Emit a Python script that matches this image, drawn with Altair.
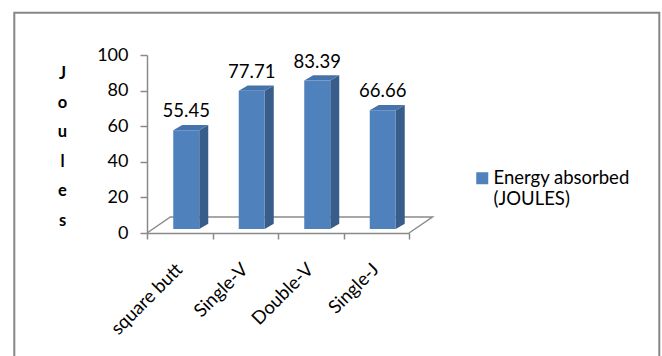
import json
import altair as alt
import pandas as pd

# ---------------- data ----------------
categories = ["square butt", "Single-V", "Double-V", "Single-J"]
values = [55.45, 77.71, 83.39, 66.66]
value_labels = ["55.45", "77.71", "83.39", "66.66"]
series_name = "Energy absorbed (JOULES)"
legend_lines = ["Energy absorbed", "(JOULES)"]
y_ticks = [0, 20, 40, 60, 80, 100]
y_title_letters = ["J", "o", "u", "l", "e", "s"]

# ---------------- layout / 3-D look ----------------
W, H = 262, 178                 # plot area in px
N = len(categories)
XU = W / N                      # px per x unit (one category band)
YU = H / 100.0                  # px per y unit
FLOOR_DX, FLOOR_DY = 23.4 / XU, 16.0 / YU
FRONT_DX, FRONT_DY = 6.5 / XU, 4.0 / YU
SIDE_DX, SIDE_DY = 9.0 / XU, 5.3 / YU
BAR_W = 26.0 / XU

FRONT_C = "#4F81BD"
SIDE_C = "#385D8A"
TOP_C = "#4673AB"
AXIS_C = "#8A8A8A"
FONT = "Lato"

front_rows, side_rows, top_rows, label_rows = [], [], [], []
for i, (cat, v, lab) in enumerate(zip(categories, values, value_labels)):
    c = i + 0.5
    x0 = c - BAR_W / 2 + FRONT_DX
    x1 = x0 + BAR_W
    b = FRONT_DY
    t = v + FRONT_DY
    front_rows.append(dict(cat=cat, series=series_name, x=x0, x2=x1, y=t, y2=b))
    side_rows += [dict(cat=cat, x=x1, y=t, y2=b),
                  dict(cat=cat, x=x1 + SIDE_DX, y=t + SIDE_DY, y2=b + SIDE_DY)]
    top_rows += [dict(cat=cat, x=x0, y=t, y2=t),
                 dict(cat=cat, x=x0 + SIDE_DX, y=t + SIDE_DY, y2=t),
                 dict(cat=cat, x=x1, y=t + SIDE_DY, y2=t),
                 dict(cat=cat, x=x1 + SIDE_DX, y=t + SIDE_DY, y2=t + SIDE_DY)]
    label_rows.append(dict(cat=cat, x=(x0 + x1) / 2, y=t, text=lab))

floor_rows = [dict(o=0, x=0, y=0), dict(o=1, x=FLOOR_DX, y=FLOOR_DY),
              dict(o=2, x=N + FLOOR_DX, y=FLOOR_DY), dict(o=3, x=N, y=0)]

front_df = pd.DataFrame(front_rows)
side_df = pd.DataFrame(side_rows)
top_df = pd.DataFrame(top_rows)
label_df = pd.DataFrame(label_rows)
floor_df = pd.DataFrame(floor_rows)
frame_df = pd.DataFrame([dict(k=0)])

label_expr = json.dumps(categories + [""]) + "[datum.value]"

x_axis = alt.Axis(values=list(range(N + 1)), labelExpr=label_expr,
                  labelOffset=XU / 2 - 1, labelAngle=-45, labelAlign="right",
                  labelBaseline="middle", labelPadding=27, tickSize=6,
                  labelFlush=False, labelOverlap=False, grid=False, title=None,
                  labelFont=FONT, labelFontSize=18.5, labelColor="#000000",
                  domainColor=AXIS_C, tickColor=AXIS_C, domainWidth=1.5, tickWidth=1.5)
y_axis = alt.Axis(values=y_ticks, tickSize=7, labelPadding=12, grid=False,
                  labelFont=FONT, labelFontSize=18, labelColor="#000000",
                  domainColor=AXIS_C, tickColor=AXIS_C, domainWidth=1.5, tickWidth=1.5,
                  title=y_title_letters, titleAngle=0, titleX=-85, titleY=18,
                  titleAlign="center", titleBaseline="middle", titleLineHeight=29.4,
                  titleFont=FONT, titleFontSize=16.5, titleFontWeight="bold",
                  titleColor="#000000")

xs = alt.Scale(domain=[0, N], nice=False, zero=False)
ys = alt.Scale(domain=[0, 100], nice=False)
X = alt.X("x:Q", scale=xs, axis=x_axis)
Y = alt.Y("y:Q", scale=ys, axis=y_axis)

frame = alt.Chart(frame_df).mark_rect(fill="transparent", stroke="#868686", strokeWidth=2).encode(
    x=alt.value(-132.7), x2=alt.value(512.3), y=alt.value(-42.3), y2=alt.value(330))

floor = alt.Chart(floor_df).mark_line(color=AXIS_C, strokeWidth=1.5).encode(
    x=X, y=Y, order="o:Q")

front = alt.Chart(front_df).mark_rect().encode(
    x=X, x2="x2:Q", y=Y, y2="y2:Q",
    color=alt.Color("series:N", scale=alt.Scale(range=[FRONT_C]),
                    legend=alt.Legend(title=None, orient="none", legendX=326, legendY=114,
                                      symbolType="square", symbolSize=144,
                                      symbolStrokeWidth=0, symbolOpacity=1, padding=0,
                                      labelOffset=2, labelFont=FONT, labelFontSize=18.5,
                                      labelColor="#000000",
                                      labelExpr=json.dumps(legend_lines))))

side = alt.Chart(side_df).mark_area(color=SIDE_C, opacity=1).encode(
    x=X, y=Y, y2="y2:Q", detail="cat:N")

top = alt.Chart(top_df).mark_area(color=TOP_C, opacity=1).encode(
    x=X, y=Y, y2="y2:Q", detail="cat:N")

labels = alt.Chart(label_df).mark_text(font=FONT, fontSize=18.5, color="#000000",
                                       baseline="alphabetic", dy=-13).encode(
    x=X, y=Y, text="text:N")

chart = alt.layer(frame, floor, side, top, front, labels).properties(
    width=W, height=H,
    autosize=alt.AutoSizeParams(type="none"),
    padding={"left": 147, "top": 55, "right": 662 - 147 - W, "bottom": 356 - 55 - H},
    background="white",
).configure(style={"guide-label": {"lineHeight": 21}}).configure_view(stroke=None)

chart.save("out.html", embed_options={"renderer": "svg", "actions": False})
